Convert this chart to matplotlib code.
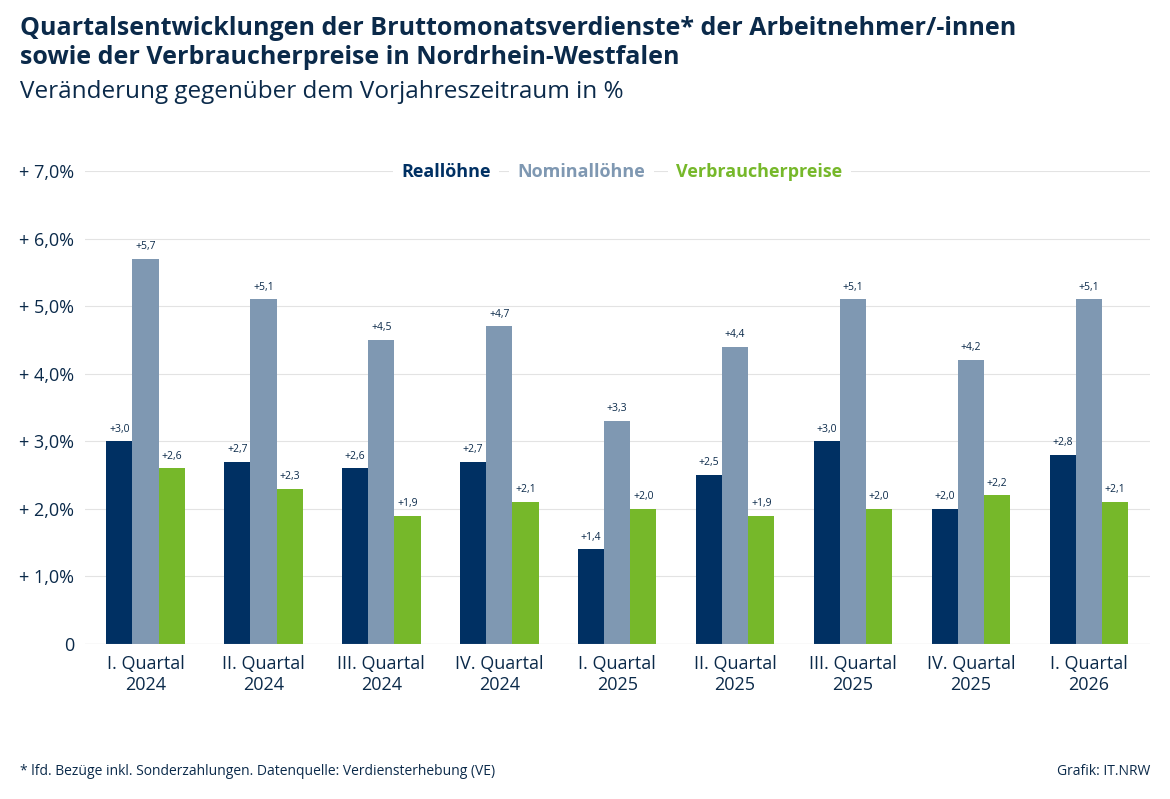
import matplotlib.pyplot as plt
import numpy as np

plt.rcParams['font.family'] = ['Open Sans', 'DejaVu Sans']

quartale = ["I. Quartal\n2024", "II. Quartal\n2024", "III. Quartal\n2024", "IV. Quartal\n2024",
            "I. Quartal\n2025", "II. Quartal\n2025", "III. Quartal\n2025", "IV. Quartal\n2025",
            "I. Quartal\n2026"]
realloehne = [3.0, 2.7, 2.6, 2.7, 1.4, 2.5, 3.0, 2.0, 2.8]
nominalloehne = [5.7, 5.1, 4.5, 4.7, 3.3, 4.4, 5.1, 4.2, 5.1]
verbraucherpreise = [2.6, 2.3, 1.9, 2.1, 2.0, 1.9, 2.0, 2.2, 2.1]

NAVY = "#003063"
GRAU = "#7f98b2"
GRUEN = "#76b82a"
TXT = "#0b2a4a"

fig = plt.figure(figsize=(11.7, 7.99), dpi=100)
ax = fig.add_axes([0.073, 0.194, 0.910, 0.592])

x = np.arange(len(quartale))
w = 0.222
series = [(realloehne, NAVY, -w), (nominalloehne, GRAU, 0), (verbraucherpreise, GRUEN, w)]
for vals, col, off in series:
    ax.bar(x + off, vals, width=w, color=col, zorder=3)
    for xi, v in zip(x, vals):
        ax.text(xi + off, v + 0.1, f"+{v:.1f}".replace(".", ","), ha="center", va="bottom",
                fontsize=7.5, color=TXT)

ax.set_ylim(0, 7)
ax.set_xlim(-0.51, 8.52)
ax.set_yticks(range(8))
ax.set_yticklabels(["0"] + [f"+ {i},0%" for i in range(1, 8)], fontsize=13, color=TXT)
ax.set_xticks(x)
ax.set_xticklabels(quartale, fontsize=13, color=TXT)
ax.tick_params(length=0, pad=8)
ax.yaxis.set_tick_params(pad=8)
ax.grid(axis="y", color="#e3e3e3", lw=0.8, zorder=0)
for s in ax.spines.values():
    s.set_visible(False)
ax.axhline(0, color="#bbbbbb", lw=0.8, zorder=4)

# Legende
for xpos, lab, col in [(0.381, "Reallöhne", NAVY), (0.497, "Nominallöhne", GRAU), (0.649, "Verbraucherpreise", GRUEN)]:
    fig.text(xpos, 0.785, lab, ha="center", va="center", fontsize=13, fontweight="bold", color=col,
             bbox=dict(facecolor="white", edgecolor="none", pad=6))

fig.text(0.017, 0.98, "Quartalsentwicklungen der Bruttomonatsverdienste* der Arbeitnehmer/-innen\nsowie der Verbraucherpreise in Nordrhein-Westfalen",
         fontsize=18, fontweight="bold", color=TXT, va="top", linespacing=1.2)
fig.text(0.017, 0.9, "Veränderung gegenüber dem Vorjahreszeitraum in %", fontsize=17.5, color=TXT, va="top")
fig.text(0.017, 0.03, "* lfd. Bezüge inkl. Sonderzahlungen. Datenquelle: Verdiensterhebung (VE)", fontsize=10, color=TXT)
fig.text(0.983, 0.03, "Grafik: IT.NRW", fontsize=10, color=TXT, ha="right")

fig.savefig("out.png", dpi=100)
